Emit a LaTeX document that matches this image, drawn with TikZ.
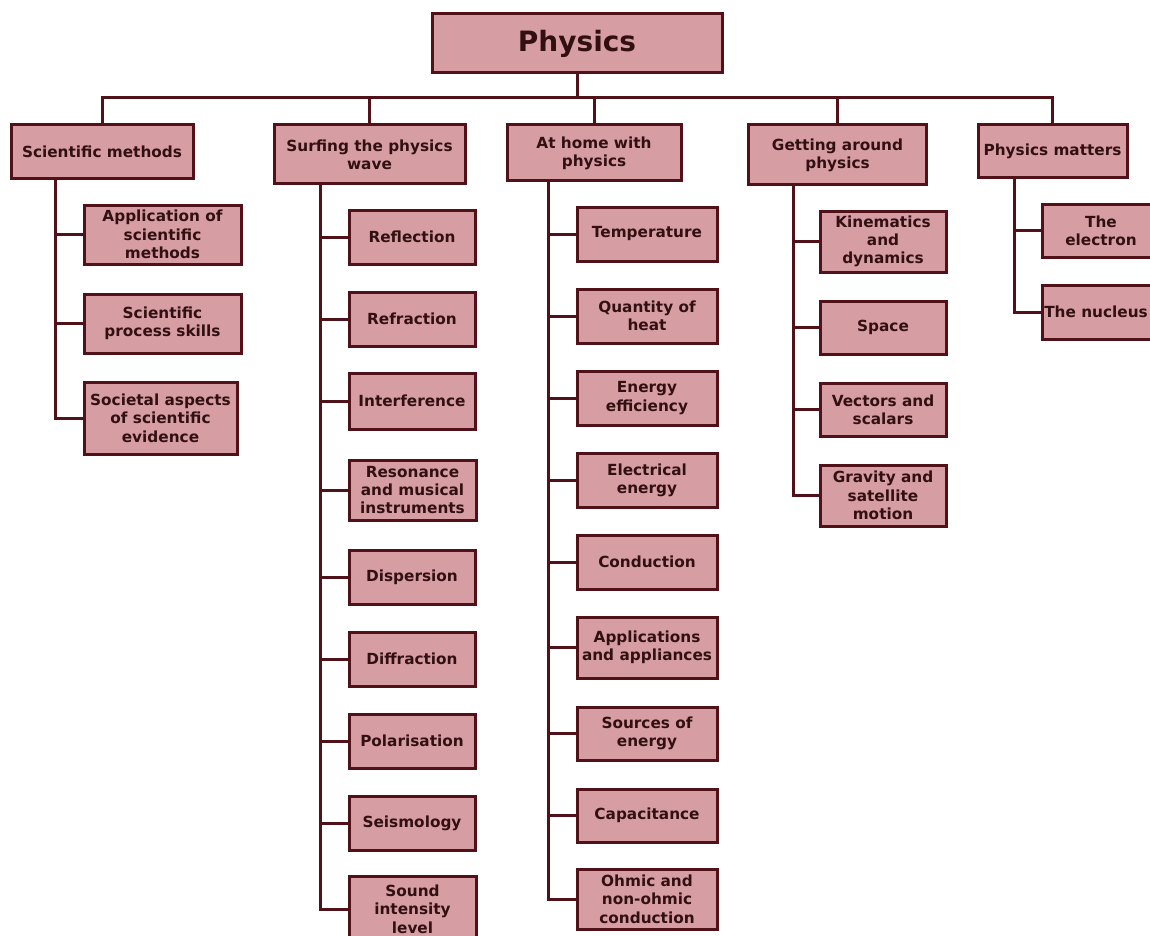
\documentclass[tikz,border=0pt]{standalone}
\usepackage{fontspec}
\setmainfont{DejaVu Sans}
\usetikzlibrary{backgrounds}
\definecolor{boxfill}{RGB}{214,158,163}
\definecolor{bord}{RGB}{80,18,24}
\definecolor{txt}{RGB}{50,16,18}
\tikzset{
  box/.style={draw=bord, fill=boxfill, line width=3pt, font=\bfseries\fontsize{15.3}{18.3}\selectfont, align=center, inner sep=0pt, text=txt},
  conn/.style={draw=bord, line width=3pt}
}
\begin{document}
\begin{tikzpicture}[x=1pt,y=-1pt]
\useasboundingbox (0,0) rectangle (1150,936);
\clip (0,0) rectangle (1150,936);
% root
\node[box, minimum width=290pt, minimum height=59pt, font=\bfseries\fontsize{28}{30}\selectfont] (phys) at (577,43.5) {Physics};
\coordinate (bus) at (577,98);
% level 1
\node[box, minimum width=182pt, minimum height=54pt] (sm) at (102,152) {Scientific methods};
\node[box, minimum width=191pt, minimum height=59pt] (surf) at (369.5,154.5) {Surfing the physics\\wave};
\node[box, minimum width=174pt, minimum height=56pt] (home) at (594,153) {At home with\\physics};
\node[box, minimum width=178pt, minimum height=60pt] (get) at (837.5,155) {Getting around\\physics};
\node[box, minimum width=149pt, minimum height=53pt] (pm) at (1052.5,151.5) {Physics matters};
% scientific methods
\node[box, minimum width=157pt, minimum height=59pt] (a1) at (162.5,234.5) {Application of\\scientific\\methods};
\node[box, minimum width=157pt, minimum height=59pt] (a2) at (162.5,323.5) {Scientific\\process skills};
\node[box, minimum width=153pt, minimum height=72pt] (a3) at (160.5,418) {Societal aspects\\of scientific\\evidence};
% surfing
\node[box, minimum width=126pt, minimum height=54pt] (b1) at (412,237) {Reflection};
\node[box, minimum width=126pt, minimum height=54pt] (b2) at (412,319) {Refraction};
\node[box, minimum width=126pt, minimum height=56pt] (b3) at (412,401) {Interference};
\node[box, minimum width=127pt, minimum height=60pt] (b4) at (412.5,490) {Resonance\\and musical\\instruments};
\node[box, minimum width=126pt, minimum height=54pt] (b5) at (412,577) {Dispersion};
\node[box, minimum width=126pt, minimum height=54pt] (b6) at (412,659) {Diffraction};
\node[box, minimum width=126pt, minimum height=54pt] (b7) at (412,741) {Polarisation};
\node[box, minimum width=126pt, minimum height=54pt] (b8) at (412,823.5) {Seismology};
\node[box, minimum width=127pt, minimum height=66pt] (b9) at (412.5,909) {Sound\\intensity\\level};
% at home
\node[box, minimum width=140pt, minimum height=54pt] (c1) at (647,234) {Temperature};
\node[box, minimum width=140pt, minimum height=54pt] (c2) at (647,316) {Quantity of\\heat};
\node[box, minimum width=140pt, minimum height=54pt] (c3) at (647,398) {Energy\\efficiency};
\node[box, minimum width=140pt, minimum height=54pt] (c4) at (647,480) {Electrical\\energy};
\node[box, minimum width=140pt, minimum height=54pt] (c5) at (647,562) {Conduction};
\node[box, minimum width=140pt, minimum height=61pt] (c6) at (647,647.5) {Applications\\and appliances};
\node[box, minimum width=140pt, minimum height=53pt] (c7) at (647,733.5) {Sources of\\energy};
\node[box, minimum width=140pt, minimum height=53pt] (c8) at (647,815.5) {Capacitance};
\node[box, minimum width=140pt, minimum height=60pt] (c9) at (647,899) {Ohmic and\\non-ohmic\\conduction};
% getting around
\node[box, minimum width=126pt, minimum height=61pt] (d1) at (883,241.5) {Kinematics\\and\\dynamics};
\node[box, minimum width=126pt, minimum height=53pt] (d2) at (883,327.5) {Space};
\node[box, minimum width=126pt, minimum height=53pt] (d3) at (883,409.5) {Vectors and\\scalars};
\node[box, minimum width=126pt, minimum height=61pt] (d4) at (883,495.5) {Gravity and\\satellite\\motion};
% physics matters
\node[box, minimum width=118pt, minimum height=53pt] (e1) at (1101,230.5) {The\\electron};
\node[box, minimum width=118pt, minimum height=54pt] (e2) at (1101,312) {\hspace*{-10pt}The nucleus};
% connectors
\begin{scope}[on background layer]
\draw[conn] (phys.south) -- (bus);
\foreach \n in {sm,surf,home,get,pm} \draw[conn] (\n.north) |- (bus);
\foreach \n in {a1,a2,a3} \draw[conn] ([xshift=46pt]sm.south west) |- (\n.west);
\foreach \n in {b1,b2,b3,b4,b5,b6,b7,b8,b9} \draw[conn] ([xshift=48pt]surf.south west) |- (\n.west);
\foreach \n in {c1,c2,c3,c4,c5,c6,c7,c8,c9} \draw[conn] ([xshift=43pt]home.south west) |- (\n.west);
\foreach \n in {d1,d2,d3,d4} \draw[conn] ([xshift=46pt]get.south west) |- (\n.west);
\foreach \n in {e1,e2} \draw[conn] ([xshift=38pt]pm.south west) |- (\n.west);
\end{scope}
\end{tikzpicture}
\end{document}
